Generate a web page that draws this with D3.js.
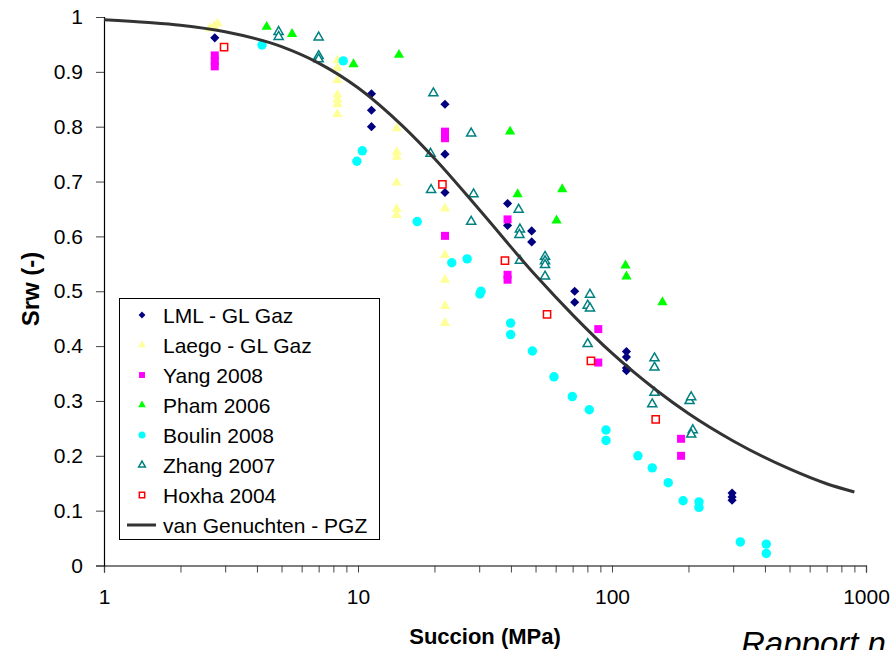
<!DOCTYPE html>
<html>
<head>
<meta charset="utf-8">
<script src="https://cdn.jsdelivr.net/npm/d3@7/dist/d3.min.js"></script>
<style>
    body { margin: 0; background: #fff; }
    svg text { font-family: Arial, "Liberation Sans", sans-serif; }
</style>
</head>
<body>
<div id="chart"></div>
<script>
// measured points [succion (MPa), Srw (-)]
var lmlGaz = [[2.73, 0.962], [11.3, 0.86], [11.3, 0.83], [11.3, 0.80], [22, 0.841], [22, 0.75], [22, 0.68],
    [38.8, 0.66], [38.8, 0.62], [48.3, 0.61], [48.3, 0.59], [71.3, 0.50], [71.3, 0.48],
    [114, 0.39], [114, 0.38], [114, 0.36], [114, 0.355], [297, 0.132], [297, 0.125], [297, 0.119]];
var laegoGaz = [[2.61, 0.979], [2.71, 0.983], [2.8, 0.988],
    [8.3, 0.921], [8.3, 0.907], [8.3, 0.885], [8.3, 0.858], [8.3, 0.849], [8.3, 0.841], [8.3, 0.823],
    [14.2, 0.797], [14.2, 0.754], [14.2, 0.745], [14.2, 0.698], [14.2, 0.650], [14.2, 0.639],
    [22, 0.651], [22, 0.566], [22, 0.521], [22, 0.473], [22, 0.442]];
var yang2008 = [[2.73, 0.93], [2.73, 0.92], [2.73, 0.91], [22, 0.791], [22, 0.779], [22, 0.601],
    [38.8, 0.631], [38.8, 0.530], [38.8, 0.521], [88.3, 0.431], [88.3, 0.370], [187, 0.231], [187, 0.200]];
var pham2006 = [[4.37, 0.982], [5.5, 0.969], [9.6, 0.914], [14.5, 0.931], [39.7, 0.791], [42.5, 0.677],
    [60.5, 0.629], [63.7, 0.686], [113, 0.547], [114, 0.527], [158, 0.480]];
var boulin2008 = [[4.19, 0.949], [8.75, 0.920], [9.9, 0.737], [10.4, 0.756], [17.1, 0.627], [23.4, 0.552],
    [26.9, 0.559], [30.5, 0.500], [30.2, 0.495], [39.9, 0.442], [39.9, 0.421], [48.6, 0.391], [59.1, 0.344],
    [69.8, 0.308], [81.4, 0.284], [94.7, 0.247], [94.7, 0.228], [126.5, 0.200], [144, 0.178], [166.5, 0.151],
    [190.5, 0.118], [220, 0.116], [220, 0.106], [320, 0.043], [405, 0.039], [405, 0.022]];
var zhang2007 = [[4.87, 0.973], [4.87, 0.964], [7.0, 0.963], [7.0, 0.929], [7.0, 0.923], [19.8, 0.861],
    [19.3, 0.751], [19.4, 0.685], [27.9, 0.788], [28.5, 0.677], [27.9, 0.627], [42.9, 0.649], [43.4, 0.613],
    [43.2, 0.603], [43.4, 0.556], [54.5, 0.563], [54.5, 0.555], [54.5, 0.548], [54.5, 0.527], [81.9, 0.494],
    [80.2, 0.474], [81.9, 0.469], [80.2, 0.404], [147, 0.378], [147, 0.361], [147, 0.315], [144, 0.294],
    [202, 0.300], [205, 0.307], [208, 0.247], [205, 0.239]];
var hoxha2004 = [[2.97, 0.945], [21.5, 0.695], [37.9, 0.556], [55.5, 0.458], [82.6, 0.373], [148.6, 0.2665]];

// van Genuchten - PGZ curve
var vgSuccion = [1, 1.5, 2, 3, 5, 7, 10, 15, 20, 30, 50, 70, 100, 150, 200, 300, 500, 700, 900];
var vgSrw = [0.995, 0.990, 0.985, 0.973, 0.946, 0.916, 0.871, 0.801, 0.742, 0.649, 0.529, 0.457, 0.387,
    0.319, 0.277, 0.227, 0.176, 0.149, 0.134];

var xTicks = [1, 10, 100, 1000];
var yTicks = [0, 0.1, 0.2, 0.3, 0.4, 0.5, 0.6, 0.7, 0.8, 0.9, 1];

var series = [
    { name: "LML - GL Gaz", data: lmlGaz, type: "diamond", color: "#000080" },
    { name: "Laego - GL Gaz", data: laegoGaz, type: "triangle", color: "#ffff99" },
    { name: "Yang 2008", data: yang2008, type: "square", color: "#ff00ff" },
    { name: "Pham 2006", data: pham2006, type: "triangle", color: "#00ff00" },
    { name: "Boulin 2008", data: boulin2008, type: "circle", color: "#00ffff" },
    { name: "Zhang 2007", data: zhang2007, type: "openTriangle", color: "#008080" },
    { name: "Hoxha 2004", data: hoxha2004, type: "openSquare", color: "#ff0000" }
];

var width = 895, height = 650;
var svg = d3.select("#chart")
    .append("svg")
    .attr("width", width)
    .attr("height", height);
svg.append("rect").attr("width", width).attr("height", height).attr("fill", "#fff");

var x = d3.scaleLog().domain([1, 1000]).range([104, 866]);
var y = d3.scaleLinear().domain([0, 1]).range([565.5, 17]);

// minor ticks for each decade
var minor = [];
xTicks.slice(0, -1).forEach(function (d) {
    for (var k = 1; k < 10; k++) minor.push(d * k);
});
minor.push(1000);

var xAxis = svg.append("g")
    .attr("transform", "translate(0," + y(0) + ")")
    .call(d3.axisBottom(x)
        .tickValues(minor)
        .tickSizeOuter(0)
        .tickSize(7)
        .tickPadding(17)
        .tickFormat(function (d) { return xTicks.indexOf(d) >= 0 ? d : ""; }));
xAxis.selectAll("text").attr("font-size", 21).attr("fill", "#000");

var yAxis = svg.append("g")
    .attr("transform", "translate(" + x(1) + ",0)")
    .call(d3.axisLeft(y)
        .tickValues(yTicks)
        .tickSizeOuter(0)
        .tickSize(8)
        .tickPadding(13)
        .tickFormat(d3.format("~g")));
yAxis.selectAll("text").attr("font-size", 21).attr("fill", "#000");

svg.selectAll(".domain").attr("stroke", "#000").attr("stroke-width", 1.2);
svg.selectAll(".tick line").attr("stroke", "#444");

// axis titles
svg.append("text")
    .attr("x", 485)
    .attr("y", 644)
    .attr("text-anchor", "middle")
    .attr("font-size", 22)
    .attr("font-weight", "bold")
    .text("Succion (MPa)");

svg.append("text")
    .attr("transform", "translate(39,289)rotate(-90)")
    .attr("text-anchor", "middle")
    .attr("font-size", 24)
    .attr("font-weight", "bold")
    .text("Srw (-)");

function symbolPath(type, big) {
    var s = big ? 1 : 0.55;
    if (type === "diamond") return d3.symbol(d3.symbolSquare, 42 * s)();
    if (type === "triangle") return d3.symbol(d3.symbolTriangle, 46 * s)();
    if (type === "openTriangle") return d3.symbol(d3.symbolTriangle, 36 * s)();
    if (type === "square") return d3.symbol(d3.symbolSquare, 64 * s)();
    if (type === "openSquare") return d3.symbol(d3.symbolSquare, 52 * s)();
    return d3.symbol(d3.symbolCircle, 70 * s)();
}

function styleMarker(sel, d) {
    var open = d.type === "openTriangle" || d.type === "openSquare";
    sel.attr("fill", open ? "#fff" : d.color)
        .attr("stroke", open ? d.color : "none")
        .attr("stroke-width", open ? 1.5 : 0);
}

// points
series.forEach(function (sr) {
    svg.append("g")
        .selectAll("path")
        .data(sr.data)
        .enter()
        .append("path")
        .attr("d", symbolPath(sr.type, true))
        .attr("transform", function (p) {
            return "translate(" + x(p[0]) + "," + y(p[1]) + ")" + (sr.type === "diamond" ? "rotate(45)" : "");
        })
        .call(styleMarker, sr);
});

// van Genuchten curve
var line = d3.line()
    .x(function (d, i) { return x(vgSuccion[i]); })
    .y(function (d) { return y(d); })
    .curve(d3.curveMonotoneX);

svg.append("path")
    .datum(vgSrw)
    .attr("d", line)
    .attr("fill", "none")
    .attr("stroke", "#333")
    .attr("stroke-width", 3);

// legend
var legend = svg.append("g");
legend.append("rect")
    .attr("x", 119.5)
    .attr("y", 298.5)
    .attr("width", 260)
    .attr("height", 241)
    .attr("fill", "#fff")
    .attr("stroke", "#000")
    .attr("stroke-width", 1);

series.forEach(function (sr, i) {
    var cy = 315 + i * 30;
    legend.append("path")
        .attr("d", symbolPath(sr.type, false))
        .attr("transform", "translate(142," + cy + ")" + (sr.type === "diamond" ? "rotate(45)" : ""))
        .call(styleMarker, sr);
    legend.append("text")
        .attr("x", 163)
        .attr("y", cy + 7.5)
        .attr("font-size", 21)
        .text(sr.name);
});

legend.append("line")
    .attr("x1", 127)
    .attr("x2", 156)
    .attr("y1", 525)
    .attr("y2", 525)
    .attr("stroke", "#333")
    .attr("stroke-width", 3);
legend.append("text")
    .attr("x", 163)
    .attr("y", 532.5)
    .attr("font-size", 21)
    .text("van Genuchten - PGZ");

svg.append("text")
    .attr("x", 741)
    .attr("y", 655)
    .attr("font-size", 33)
    .attr("font-style", "italic")
    .text("Rapport n");
</script>
</body>
</html>
